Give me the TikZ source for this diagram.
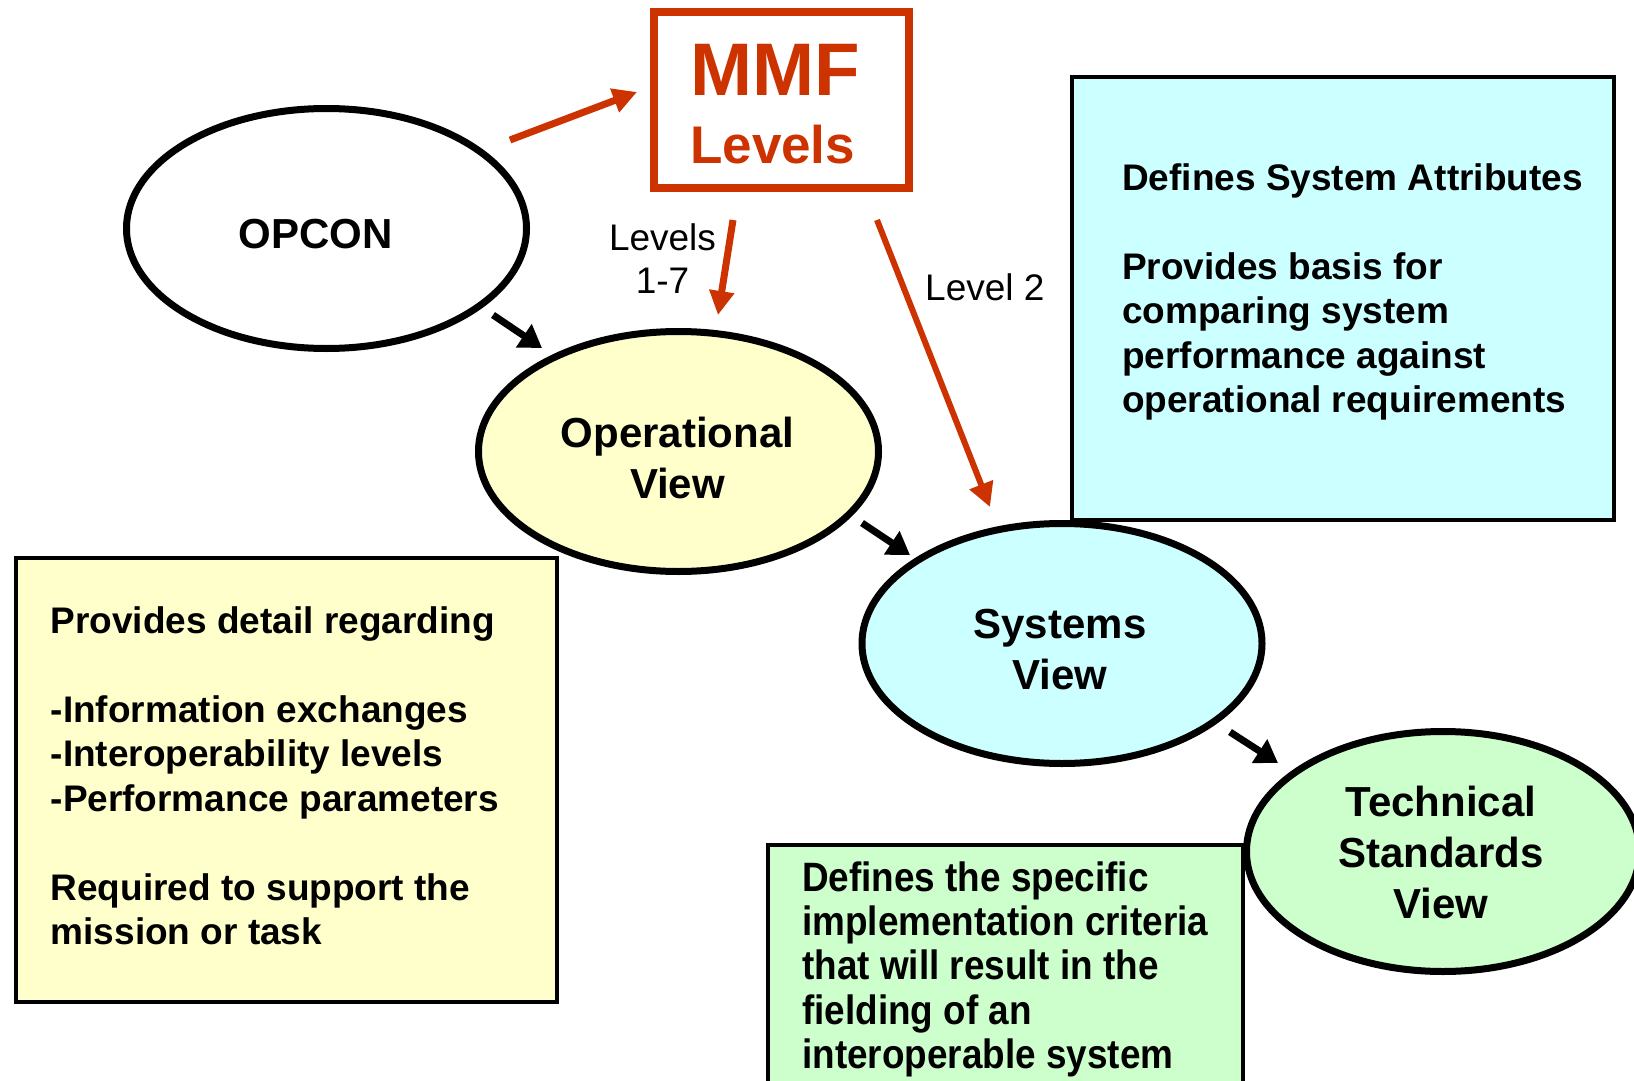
\documentclass[tikz,border=0pt]{standalone}
\usepackage{fontspec}
\setmainfont{Liberation Sans}
\newfontfamily\condensedbold{Liberation Sans Bold}[FakeStretch=0.9]
\usetikzlibrary{arrows.meta,shapes.geometric}

\definecolor{mmfred}{HTML}{CC3300}
\definecolor{opfill}{HTML}{FFFFCC}
\definecolor{sysfill}{HTML}{CCFFFF}
\definecolor{techfill}{HTML}{CCFFCC}

\tikzset{
  view/.style={ellipse, draw=black, line width=7pt, inner sep=0pt, outer sep=0pt,
    minimum width=400pt, minimum height=240pt},
  viewtext/.style={anchor=north, align=center, inner sep=0pt,
    font=\bfseries\fontsize{42}{51}\selectfont},
  notebox/.style={rectangle, draw=black, line width=4pt, inner sep=0pt, outer sep=0pt,
    anchor=north west},
  notetext/.style={anchor=north west, align=left, inner sep=0pt,
    font=\bfseries\fontsize{37}{44.5}\selectfont},
  levellabel/.style={inner sep=0pt, font=\fontsize{37}{43}\selectfont},
  flow/.style={draw=black, line width=7pt, -{Triangle[length=22pt,width=27pt]}},
  redflow/.style={draw=mmfred, line width=7pt, -{Triangle[length=24pt,width=24pt]}},
}

\begin{document}
\begin{tikzpicture}[x=1pt,y=-1pt]
  \useasboundingbox (0,0) rectangle (1634,1081);
  \clip (0,0) rectangle (1634,1081);
  \fill[white] (0,0) rectangle (1634,1081);

  % explanatory notes
  \node[notebox, fill=opfill, minimum width=541pt, minimum height=444pt]
    (opnote) at (15.5,557.5) {};
  \node[notebox, fill=sysfill, minimum width=542pt, minimum height=443pt]
    (sysnote) at (1072,77) {};
  \node[notebox, fill=techfill, minimum width=475pt, minimum height=260pt]
    (technote) at (768,845) {};

  % MMF levels box
  \node[rectangle, draw=mmfred, line width=8pt, inner sep=0pt, outer sep=0pt,
    minimum width=255pt, minimum height=176pt] (mmf) at (781.5,100) {};

  % the views
  \node[view] (opcon) at (326.5,228.5) {};
  \node[view, fill=opfill] (ov) at (678.5,451.5) {};
  \node[view, fill=sysfill] (sv) at (1062,643.5) {};
  \node[view, fill=techfill, minimum width=393pt] (tsv) at (1443,851.5) {};

  % view titles
  \node[viewtext] (opcontext) at (315.5,216) {\rule{0pt}{32pt}OPCON};
  \node[viewtext] (ovtext) at (677.5,415) {\rule{0pt}{32pt}Operational\\View};
  \node[viewtext] (svtext) at (1060,606) {\rule{0pt}{32pt}Systems\\View};
  \node[viewtext] (tsvtext) at (1441,784) {\rule{0pt}{32pt}Technical\\Standards\\View};

  % MMF title
  \node[anchor=north west, align=left, inner sep=0pt, text=mmfred,
    font=\bfseries\fontsize{53}{68}\selectfont] (mmftext) at (690,35)
    {\rule{0pt}{60pt}{\fontsize{74.5}{68}\selectfont MMF}\\Levels};

  % note texts
  \node[notetext] (optext) at (50.5,603)
    {\rule{0pt}{30pt}Provides detail regarding\\[44.5pt]
     -Information exchanges\\
     -Interoperability levels\\
     -Performance parameters\\[44.5pt]
     Required to support the\\
     mission or task};
  \node[notetext] (systext) at (1122,160)
    {\rule{0pt}{30pt}Defines System Attributes\\[44.5pt]
     Provides basis for\\
     comparing system\\
     performance against\\
     operational requirements};
  \node[notetext, font=\condensedbold\fontsize{41}{44.3}\selectfont] (techtext) at (802,859)
    {\rule{0pt}{32pt}Defines the specific\\
     implementation criteria\\
     that will result in the\\
     fielding of an\\
     interoperable system};

  % level labels
  \node[levellabel, anchor=north, align=center] (lvl17) at (662.5,220)
    {\rule{0pt}{30pt}Levels\\1-7};
  \node[levellabel, anchor=base west] (lvl2) at (925,300) {Level 2};

  % connector end points
  \coordinate (opcon-out) at (493,315);
  \coordinate (ov-in) at (542,348);
  \coordinate (ov-out) at (862,523);
  \coordinate (sv-in) at (910,555);
  \coordinate (sv-out) at (1230,732);
  \coordinate (tsv-in) at (1278,763);
  \coordinate (opcon-mmf) at (510,140);
  \coordinate (mmf-in) at (637,92);
  \coordinate (mmf-out1) at (733,220);
  \coordinate (ov-top) at (718,315);
  \coordinate (mmf-out2) at (877,220);
  \coordinate (sv-top) at (990,507);

  % flow between the views
  \draw[flow] (opcon-out) -- (ov-in);
  \draw[flow] (ov-out) -- (sv-in);
  \draw[flow] (sv-out) -- (tsv-in);

  % MMF links
  \draw[redflow] (opcon-mmf) -- (mmf-in);
  \draw[redflow] (mmf-out1) -- (ov-top);
  \draw[redflow, line width=6pt] (mmf-out2) -- (sv-top);
\end{tikzpicture}
\end{document}
